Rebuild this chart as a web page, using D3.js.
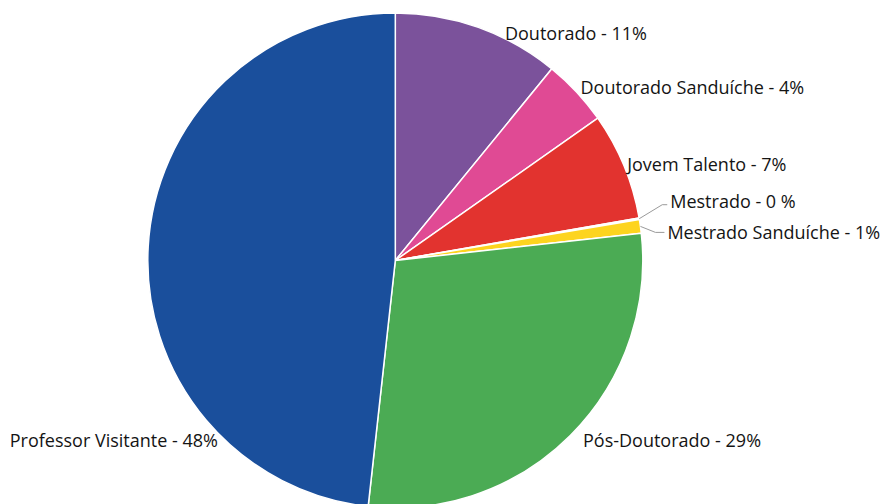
<!DOCTYPE html>
<html>
<head>
<meta charset="utf-8">
<script src="https://cdn.jsdelivr.net/npm/d3@7"></script>
<style>
  html, body { margin: 0; padding: 0; background: #fff; }
  svg { display: block; }
  text { font-family: "Open Sans", "Noto Sans", sans-serif; fill: #141414; }
</style>
</head>
<body>
<svg id="chart" width="880" height="504"></svg>
<script>
// ---- data ----
const categories = ["Doutorado", "Doutorado Sanduíche", "Jovem Talento", "Mestrado", "Mestrado Sanduíche", "Pós-Doutorado", "Professor Visitante"];
const values = [10.9, 4.35, 7.0, 0.1, 0.9, 28.5, 48.25];
const percentLabels = ["11%", "4%", "7%", "0 %", "1%", "29%", "48%"];
const colors = ["#7B529B", "#E04A94", "#E2332F", "#F08A24", "#FDD41F", "#4BAB54", "#1A4F9C"];

// ---- layout ----
const W = 880, H = 504;
const cx = 395.3, cy = 260.5, R = 247.5;
const svg = d3.select("#chart");
const g = svg.append("g").attr("transform", `translate(${cx},${cy})`);

const data = categories.map((c, i) => ({ name: c, value: values[i], label: percentLabels[i], color: colors[i] }));

const pie = d3.pie().sort(null).value(d => d.value).startAngle(0).endAngle(2 * Math.PI);
const arcs = pie(data);
const arc = d3.arc().innerRadius(0).outerRadius(R);

g.selectAll("path.slice")
  .data(arcs)
  .join("path")
  .attr("class", "slice")
  .attr("d", arc)
  .attr("fill", d => d.data.color)
  .attr("stroke", "#fff")
  .attr("stroke-width", 1.5)
  .attr("stroke-linejoin", "round");

// label placement (angle in degrees clockwise from top, radial gap, anchor)
const deg = Math.PI / 180;
const labelLayout = {
  "Doutorado": { angle: 25.8, gap: 4.5, anchor: "start" },
  "Doutorado Sanduíche": { gap: 5.5, anchor: "start" },
  "Jovem Talento": { gap: 3.5, anchor: "start" },
  "Pós-Doutorado": { angle: 133.9, gap: 13, anchor: "start" },
  "Professor Visitante": { angle: 224.5, gap: 5.5, anchor: "end" },
  "Mestrado": { leader: [[23, -14], [28, -14]], textShift: -3, anchor: "start" },
  "Mestrado Sanduíche": { leader: [[15, 6], [24, 6]], textShift: 0, anchor: "start" }
};

const pt = (a, r) => [r * Math.sin(a), -r * Math.cos(a)];
const fontSize = 18;

arcs.forEach(d => {
  const L = labelLayout[d.data.name];
  const mid = (d.startAngle + d.endAngle) / 2;
  const text = `${d.data.name} - ${d.data.label}`;
  let x, y;
  if (L.leader) {
    const e = pt(mid, R);
    const pts = [e].concat(L.leader.map(o => [e[0] + o[0], e[1] + o[1]]));
    g.append("path")
      .attr("d", d3.line()(pts))
      .attr("fill", "none")
      .attr("stroke", "#9a9a9a")
      .attr("stroke-width", 1);
    const last = pts[pts.length - 1];
    x = last[0] + 3; y = last[1] + (L.textShift || 0);
  } else {
    const a = (L.angle !== undefined ? L.angle * deg : mid);
    [x, y] = pt(a, R + L.gap);
  }
  g.append("text")
    .attr("x", x)
    .attr("y", y)
    .attr("dy", "0.35em")
    .attr("text-anchor", L.anchor)
    .style("font-size", fontSize + "px")
    .text(text);
});
</script>
</body>
</html>
